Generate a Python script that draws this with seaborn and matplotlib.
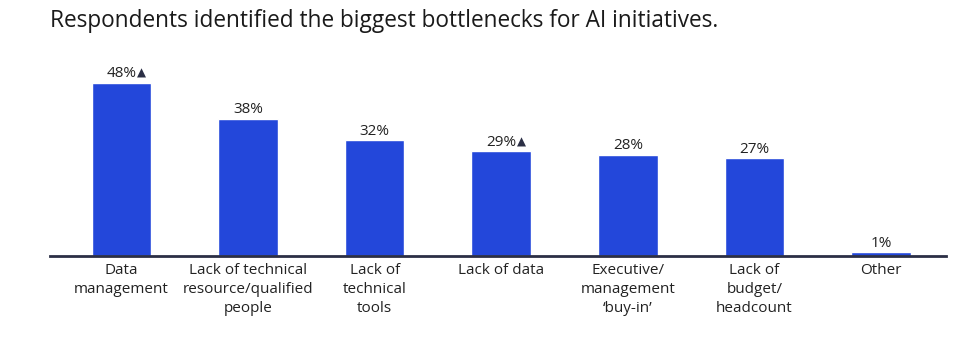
import matplotlib
matplotlib.use("Agg")
import matplotlib.pyplot as plt
import seaborn as sns
import pandas as pd

# data
categories = ["Data\nmanagement", "Lack of technical\nresource/qualified\npeople",
              "Lack of\ntechnical\ntools", "Lack of data",
              "Executive/\nmanagement\n\u2018buy-in\u2019", "Lack of\nbudget/\nheadcount", "Other"]
values = [48, 38, 32, 29, 28, 27, 1]
flagged = [True, False, False, True, False, False, False]

sns.set_theme(style="white")
plt.rcParams["font.family"] = ["Open Sans", "DejaVu Sans"]

df = pd.DataFrame({"category": categories, "value": values})

fig = plt.figure(figsize=(9.6, 3.58), dpi=100)
ax = fig.add_axes([0.052, 0.285, 0.933, 0.55])

sns.barplot(data=df, x="category", y="value", color="#2347DA", saturation=1,
            width=0.47, ax=ax)

ax.set_xlim(-0.565, 6.51)
ax.set_ylim(0, 54.5)
ax.set_xlabel("")
ax.set_ylabel("")
ax.set_yticks([])
for s in ["top", "right", "left"]:
    ax.spines[s].set_visible(False)
ax.spines["bottom"].set_color("#2B2F45")
ax.spines["bottom"].set_linewidth(2)
ax.tick_params(axis="x", length=0, pad=5, labelsize=11, labelcolor="#222222")
for lbl in ax.get_xticklabels():
    lbl.set_linespacing(1.35)

for i, (v, f) in enumerate(zip(values, flagged)):
    ax.annotate(f"{v}%", (i, v), xytext=(0, 1), textcoords="offset points",
                ha="center", va="bottom", fontsize=11, color="#222222")
    if f:
        # small dark triangle right after the percentage
        ax.annotate("\u25B2", (i, v), xytext=(11.5, 2), textcoords="offset points",
                    ha="left", va="bottom", fontsize=8.5, color="#2B2F45",
                    family=["DejaVu Sans"])

fig.text(0.052, 0.94, "Respondents identified the biggest bottlenecks for AI initiatives.",
         ha="left", va="center", fontsize=16.3, color="#1a1a1a")

fig.savefig("out.png", dpi=100)
